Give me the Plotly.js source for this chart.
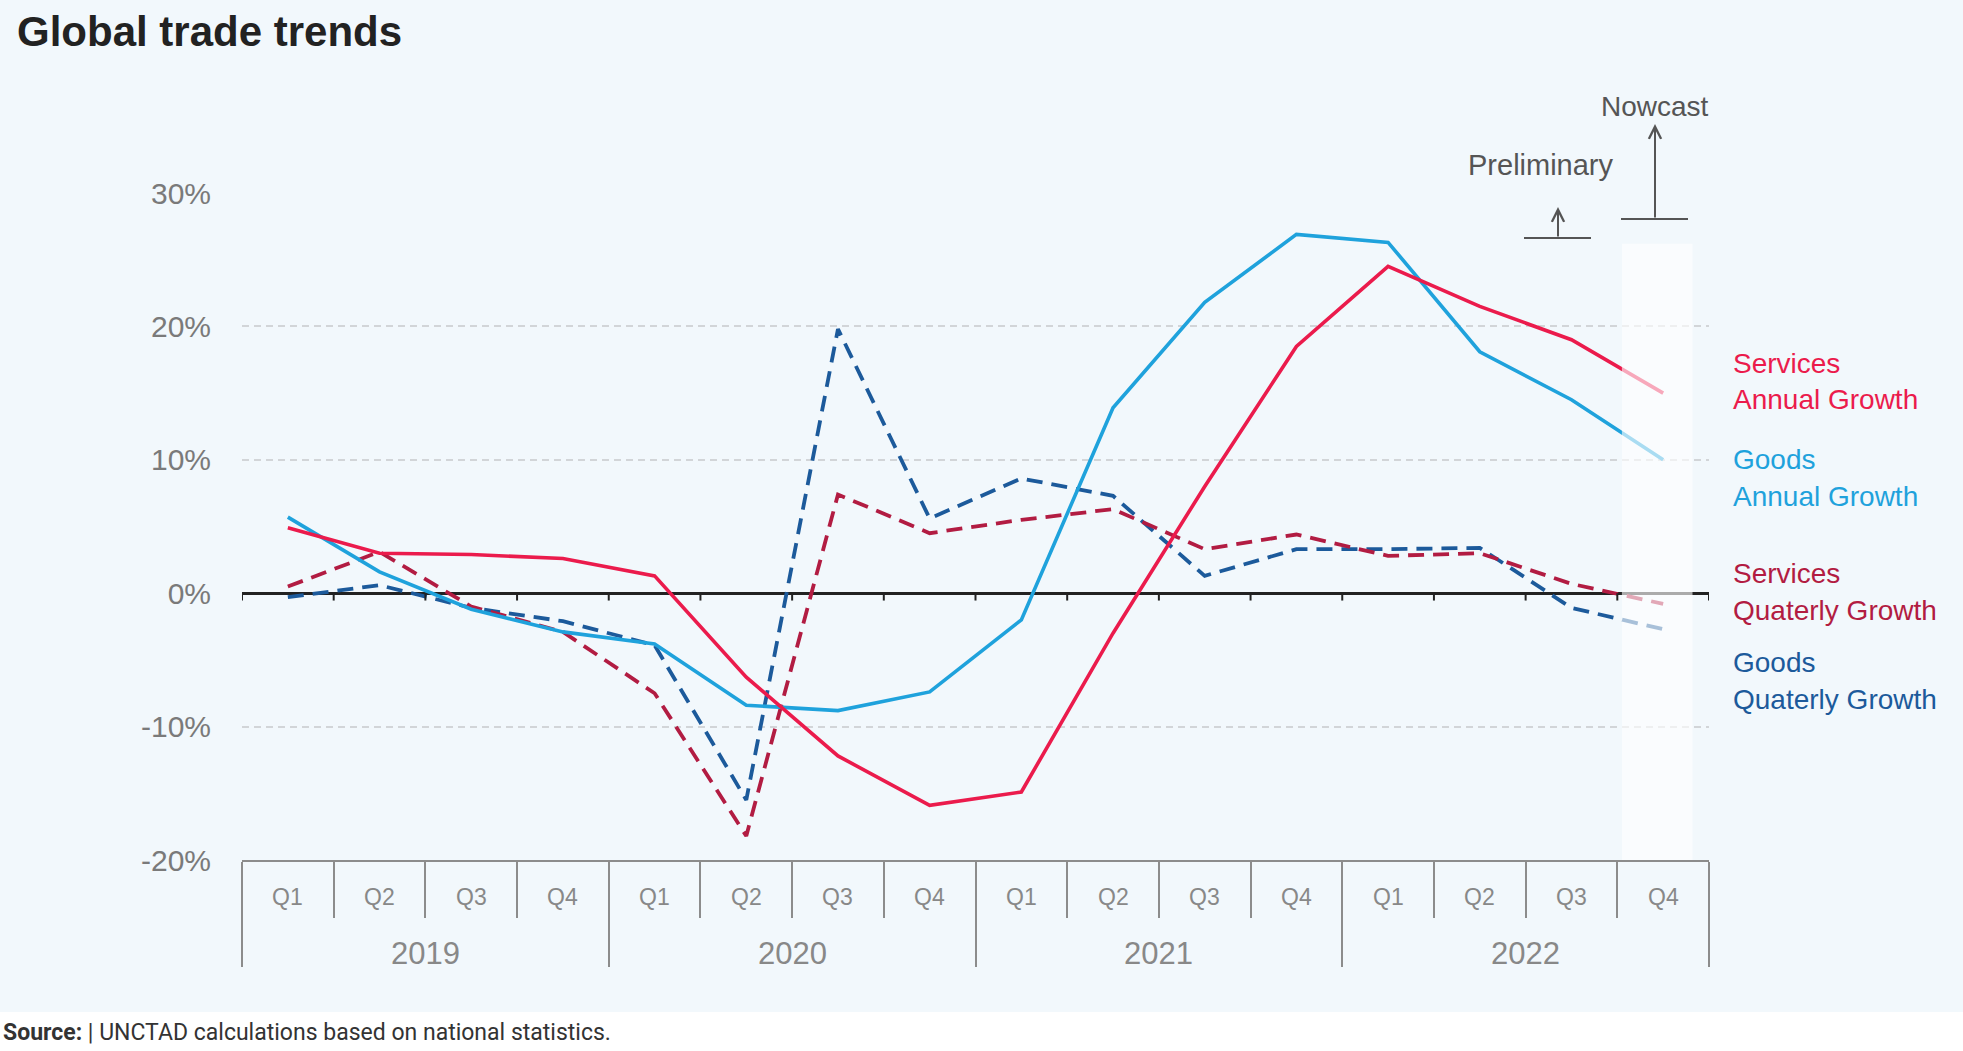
<!DOCTYPE html>
<html>
<head>
<meta charset="utf-8">
<script src="https://cdn.plot.ly/plotly-3.0.1.min.js"></script>
<style>
	html, body { margin: 0; padding: 0; background: #ffffff; }
	#chart { width: 1963px; height: 1051px; }
</style>
</head>
<body>
<div id="chart"></div>
<script>
'use strict';

// Categories
const years = ['2019', '2020', '2021', '2022'];
const quarters = ['Q1', 'Q2', 'Q3', 'Q4'];

// Growth rates, %
const servicesAnnual    = [4.9, 3.0, 2.9, 2.6, 1.3, -6.3, -12.2, -15.9, -14.9, -3.0, 8.0, 18.5, 24.5, 21.5, 19.0, 15.0];
const goodsAnnual       = [5.7, 1.6, -1.2, -2.9, -3.8, -8.4, -8.8, -7.4, -2.0, 13.9, 21.8, 26.9, 26.3, 18.1, 14.5, 10.0];
const servicesQuarterly = [0.5, 3.1, -1.0, -2.9, -7.5, -18.2, 7.4, 4.5, 5.5, 6.3, 3.3, 4.4, 2.8, 3.0, 0.7, -0.8];
const goodsQuarterly    = [-0.3, 0.6, -1.1, -2.1, -3.9, -15.5, 19.8, 5.6, 8.6, 7.3, 1.3, 3.3, 3.3, 3.4, -1.1, -2.7];

// Axis ticks
const yTickVals = [-20, -10, 0, 10, 20, 30];
const yTickText = ['-20%', '-10%', '0%', '10%', '20%', '30%'];

// Labels
const seriesLabels = [
	['Services', 'Annual Growth'],
	['Goods', 'Annual Growth'],
	['Services', 'Quaterly Growth'],
	['Goods', 'Quaterly Growth']
];
const seriesColors = ['#eb1b4c', '#1fa2dc', '#b21c42', '#1c5a9b'];

document.addEventListener('DOMContentLoaded', function(){

	const W = 1963, H = 1051;
	const margin = {l: 242, r: 254, t: 193, b: 191, pad: 0};
	const plotW = W - margin.l - margin.r;
	const plotH = H - margin.t - margin.b;
	const px2paperX = function(px) { return (px - margin.l) / plotW; };
	const px2paperY = function(py) { return (H - margin.b - py) / plotH; };

	const sans = "'Liberation Sans', Arial, sans-serif";
	const grey = '#8c8c8c';
	const ink = '#555555';

	// one slot per quarter
	const slots = [];
	const slotLabels = [];
	years.forEach(function(y) {
		quarters.forEach(function(q) {
			slots.push(slots.length);
			slotLabels.push(q);
		});
	});
	const n = slots.length;
	const bounds = [];
	for (let i = 0; i <= n; i++) bounds.push(i - 0.5);
	const yearCenters = years.map(function(y, i) { return i * quarters.length + (quarters.length - 1) / 2; });
	const yearBounds = years.map(function(y, i) { return i * quarters.length - 0.5; }).concat([n - 0.5]);
	// quarter boundaries that are not also year boundaries
	const quarterBounds = bounds.filter(function(b) { return yearBounds.indexOf(b) < 0; });

	function lineTrace(name, values, color, dash, width) {
		return {
			x: slots,
			y: values,
			name: name,
			type: 'scatter',
			mode: 'lines',
			line: {color: color, width: width, dash: dash},
			hoverinfo: 'skip'
		};
	}

	const data = [
		lineTrace('Goods Quaterly Growth', goodsQuarterly, seriesColors[3], '16px,9px', 3.8),
		lineTrace('Services Quaterly Growth', servicesQuarterly, seriesColors[2], '16px,9px', 3.8),
		lineTrace('Goods Annual Growth', goodsAnnual, seriesColors[1], 'solid', 3.6),
		lineTrace('Services Annual Growth', servicesAnnual, seriesColors[0], 'solid', 3.6)
	];

	const xRange = [-0.5, n - 0.5];

	const annotations = [];

	// quarter row and year row under the axis
	slots.forEach(function(s, i) {
		annotations.push({
			xref: 'x', yref: 'paper', x: s, y: px2paperY(897),
			xanchor: 'center', yanchor: 'middle', showarrow: false,
			text: slotLabels[i], font: {family: sans, size: 23, color: '#888888'}
		});
	});
	years.forEach(function(y, i) {
		annotations.push({
			xref: 'x', yref: 'paper', x: yearCenters[i], y: px2paperY(953),
			xanchor: 'center', yanchor: 'middle', showarrow: false,
			text: y, font: {family: sans, size: 31, color: '#888888'}
		});
	});

	// legend text at the right, pixel rows
	const labelRows = [[363, 399], [459, 496], [573, 610], [662, 699]];
	seriesLabels.forEach(function(lines, i) {
		lines.forEach(function(txt, j) {
			annotations.push({
				xref: 'paper', yref: 'paper',
				x: px2paperX(1731), y: px2paperY(labelRows[i][j]),
				xanchor: 'left', yanchor: 'middle',
				text: txt, showarrow: false,
				font: {family: sans, size: 28, color: seriesColors[i]}
			});
		});
	});

	// Preliminary / Nowcast markers (pixel positions)
	annotations.push({
		xref: 'paper', yref: 'paper', x: px2paperX(1541), y: px2paperY(165),
		text: 'Preliminary', showarrow: false, xanchor: 'center', yanchor: 'middle',
		font: {family: sans, size: 29, color: ink}
	});
	annotations.push({
		xref: 'paper', yref: 'paper', x: px2paperX(1655), y: px2paperY(106),
		text: 'Nowcast', showarrow: false, xanchor: 'center', yanchor: 'middle',
		font: {family: sans, size: 28, color: ink}
	});
	[[1558, 238, 207], [1655, 219, 124]].forEach(function(a) {
		annotations.push({
			xref: 'paper', yref: 'paper', axref: 'paper', ayref: 'paper',
			x: px2paperX(a[0]), y: px2paperY(a[2]),
			ax: px2paperX(a[0]), ay: px2paperY(a[1]),
			text: '', showarrow: true, arrowhead: 5, arrowsize: 1.2, arrowwidth: 2, arrowcolor: ink
		});
	});

	// Source line
	annotations.push({
		xref: 'paper', yref: 'paper', x: px2paperX(1), y: px2paperY(1032),
		xanchor: 'left', yanchor: 'middle', showarrow: false,
		text: '<b>Source:</b> | UNCTAD calculations based on national statistics.',
		font: {family: 'Roboto, sans-serif', size: 23, color: '#333333'}
	});

	const shapes = [
		// chart background
		{
			type: 'rect', xref: 'paper', yref: 'paper', layer: 'below',
			x0: px2paperX(0), x1: px2paperX(W), y0: px2paperY(1012), y1: px2paperY(0),
			fillcolor: '#f2f8fc', line: {width: 0}
		},
		// bases of the two arrows
		{
			type: 'line', xref: 'paper', yref: 'paper',
			x0: px2paperX(1524), x1: px2paperX(1591), y0: px2paperY(238), y1: px2paperY(238),
			line: {color: ink, width: 2}
		},
		{
			type: 'line', xref: 'paper', yref: 'paper',
			x0: px2paperX(1621), x1: px2paperX(1688), y0: px2paperY(219), y1: px2paperY(219),
			line: {color: ink, width: 2}
		}
	];

	// small ticks hanging from the zero line at each quarter boundary
	bounds.forEach(function(b) {
		shapes.push({
			type: 'line', xref: 'x', yref: 'y', layer: 'above',
			x0: b, x1: b, y0: 0, y1: -0.55,
			line: {color: '#222222', width: 2}
		});
	});

	// nowcast veil, above everything in the plot
	shapes.push({
		type: 'rect', xref: 'x', yref: 'y', layer: 'above',
		x0: 14.55, x1: 15.32, y0: -20, y1: 26.2,
		fillcolor: 'rgba(255,255,255,0.62)', line: {width: 0}
	});

	const layout = {
		width: W,
		height: H,
		margin: margin,
		paper_bgcolor: '#ffffff',
		plot_bgcolor: 'rgba(0,0,0,0)',
		showlegend: false,
		title: {
			text: '<b>Global trade trends</b>',
			xref: 'container', yref: 'container',
			x: 17 / W, xanchor: 'left',
			y: 1 - 31 / H, yanchor: 'middle',
			font: {family: sans, size: 42, color: '#222222'}
		},
		xaxis: {
			// long ticks split the years, short minor ticks split the quarters
			type: 'linear',
			range: xRange,
			tickmode: 'array',
			tickvals: yearBounds,
			ticktext: yearBounds.map(function() { return ' '; }),
			ticks: 'outside',
			ticklen: 105,
			tickwidth: 2,
			tickcolor: grey,
			showgrid: false,
			zeroline: false,
			showline: true,
			linecolor: grey,
			linewidth: 2,
			minor: {
				tickmode: 'array',
				tickvals: quarterBounds,
				ticks: 'outside',
				ticklen: 56,
				tickwidth: 2,
				tickcolor: grey,
				showgrid: false
			}
		},
		yaxis: {
			range: [-20, 30],
			tickmode: 'array',
			tickvals: yTickVals,
			ticktext: yTickText,
			ticks: '',
			showline: false,
			zeroline: true,
			zerolinecolor: '#222222',
			zerolinewidth: 3,
			showgrid: true,
			gridcolor: '#d2d5d8',
			gridwidth: 2,
			griddash: '7px,5px',
			ticklabelstandoff: 30,
			tickfont: {family: sans, size: 30, color: '#7a7a7a'}
		},
		shapes: shapes,
		annotations: annotations
	};

	try {
		Plotly.newPlot('chart', data, layout, {staticPlot: true});
	}
	catch (err) {
		console.error(err);
	}
});
</script>
</body>
</html>
